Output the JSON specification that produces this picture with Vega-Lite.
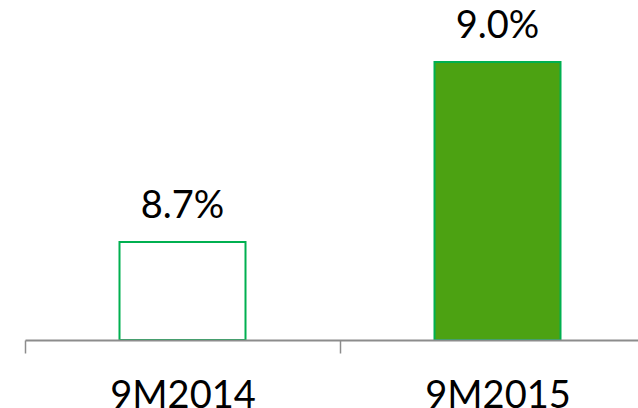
{
  "$schema": "https://vega.github.io/schema/vega-lite/v6.json",
  "width": 613,
  "height": 340,
  "autosize": {"type": "none"},
  "padding": {"left": 25, "top": 0, "right": 0, "bottom": 68},
  "background": "white",
  "config": {"view": {"stroke": null}},
  "data": {
    "values": [
      {"period": "9M2014", "value": 8.7, "label": "8.7%"},
      {"period": "9M2015", "value": 9.0, "label": "9.0%"}
    ]
  },
  "encoding": {
    "x": {
      "field": "period",
      "type": "nominal",
      "sort": null,
      "scale": {"range": [0, 630], "paddingInner": 0, "paddingOuter": 0},
      "axis": {
        "title": null,
        "labelAngle": 0,
        "labelFont": "Lato",
        "labelFontSize": 38,
        "labelColor": "#000000",
        "labelBaseline": "alphabetic",
        "labelPadding": 54,
        "tickBand": "extent",
        "tickSize": 13,
        "tickWidth": 1.5,
        "tickColor": "#8c8c8c",
        "domainColor": "#8c8c8c",
        "domainWidth": 2,
        "grid": false,
        "zindex": 1
      }
    },
    "y": {
      "field": "value",
      "type": "quantitative",
      "scale": {"domain": [8.5367, 9.1033], "zero": false, "nice": false},
      "axis": null
    }
  },
  "layer": [
    {
      "mark": {"type": "bar", "width": {"band": 0.4}, "stroke": "#00B050", "strokeWidth": 2},
      "encoding": {
        "y2": {"datum": 8.5367},
        "fill": {
          "field": "period",
          "type": "nominal",
          "scale": {"domain": ["9M2014", "9M2015"], "range": ["#FFFFFF", "#4CA212"]},
          "legend": null
        }
      }
    },
    {
      "mark": {"type": "text", "baseline": "alphabetic", "dy": -24, "font": "Lato", "fontSize": 38, "color": "#000000"},
      "encoding": {"text": {"field": "label"}}
    }
  ]
}
